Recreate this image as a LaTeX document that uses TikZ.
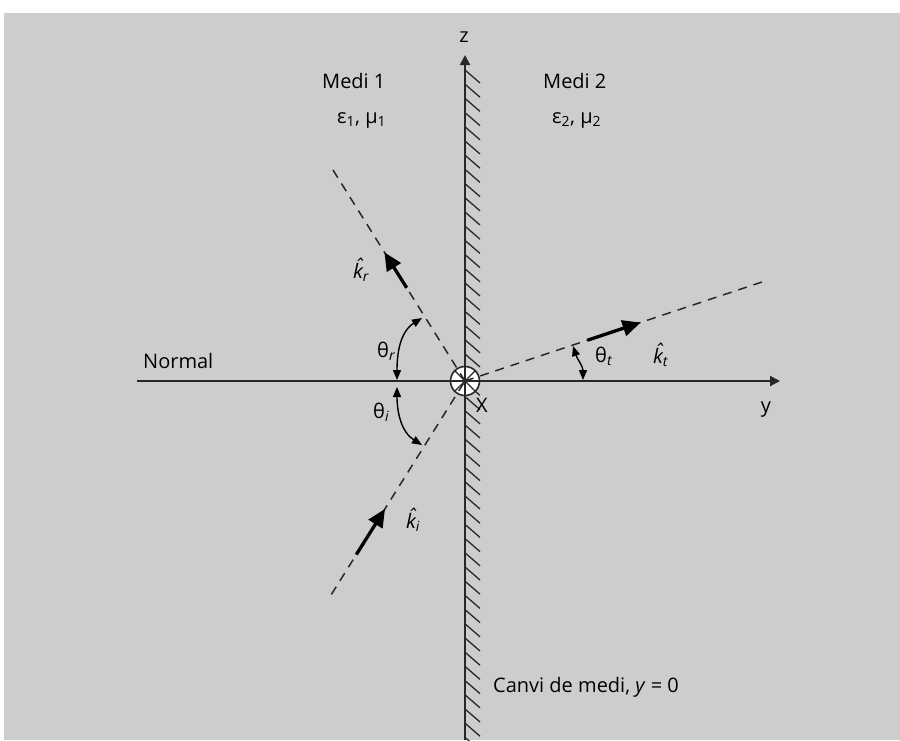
\documentclass[tikz,border=0pt]{standalone}
\usepackage{fontspec}
\setmainfont{Open Sans}
\usetikzlibrary{arrows.meta}
\definecolor{bg}{RGB}{205,205,205}
\definecolor{ink}{RGB}{40,40,40}
\newcommand\khat[1]{{\itshape\accent"02C6 k}\textsubscript{\itshape #1}}
\begin{document}
\begin{tikzpicture}[x=1pt,y=1pt,
  every node/.style={font=\fontsize{20}{24}\selectfont, inner sep=0pt, text=black},
  axisline/.style={draw=ink, line width=2pt},
  axistip/.style={-{Triangle[length=10pt,width=10pt]}},
  ray/.style={draw=ink, line width=1.5pt, dash pattern=on 9pt off 7pt},
  kvec/.style={draw=black, line width=3.3pt, -{Triangle[length=18pt,width=16pt]}},
  anglearc/.style={draw=black, line width=1.4pt, {Triangle[length=10pt,width=8pt]}-{Triangle[length=10pt,width=8pt]}},
  hatch/.style={draw=ink, line width=1.3pt}]
\useasboundingbox (0,0) rectangle (900,-740);
\fill[white] (0,0) rectangle (900,-740);
\fill[bg] (4,-13) rectangle (900,-740);
% hatching
\foreach \k in {0,...,47}{
  \draw[hatch] (465,{-70-14.2*\k}) -- ++(15,-13);
}
% key points
\coordinate (O) at (465,-381);
\coordinate (R) at (333,-170);
\coordinate (I) at (331.4,-594.4);
\coordinate (T) at (762,-282);
\coordinate (Ztop) at (465,-55);
\coordinate (Zbot) at (465,-740);
\coordinate (Yl) at (137,-381);
\coordinate (Yr) at (780,-381);
% origin symbol
\node[circle, draw=ink, fill=white, line width=1.6pt, minimum size=29pt] (orig) at (O) {};
\draw[ink, line width=1.2pt] (orig.45) -- (orig.225) (orig.135) -- (orig.315);
% axes
\draw[axisline, axistip] (Zbot) -- (Ztop);
\draw[axisline, axistip] (Yl) -- (Yr);
% rays
\draw[ray] (O) -- (R);
\draw[ray] (I) -- (O);
\draw[ray] (O) -- (T);
% wave vectors
\coordinate (kr1) at (406.7,-287.8);
\coordinate (kr2) at (384.4,-252.3);
\coordinate (ki1) at (356.3,-554.6);
\coordinate (ki2) at (385.0,-508.9);
\coordinate (kt1) at (587.4,-340.2);
\coordinate (kt2) at (640.6,-322.5);
\draw[kvec] (kr1) -- (kr2);
\draw[kvec] (ki1) -- (ki2);
\draw[kvec] (kt1) -- (kt2);
% angle arcs
\coordinate (A1) at (397,-380);
\coordinate (B1) at (422,-318);
\coordinate (A2) at (397,-387);
\coordinate (B2) at (422,-445);
\coordinate (A3) at (583,-380);
\coordinate (B3) at (573,-346);
\draw[anglearc] (A1) to[out=90,in=212] (B1);
\draw[anglearc] (A2) to[out=-90,in=148] (B2);
\draw[anglearc] (A3) to[out=90,in=-72] (B3);
% labels
\node[anchor=base] (zl) at (464,-42) {z};
\node[anchor=base west] (m1) at (322,-88) {Medi 1};
\node[anchor=base west] (e1) at (337,-123) {ε\textsubscript{1}, μ\textsubscript{1}};
\node[anchor=base west] (m2) at (543,-88) {Medi 2};
\node[anchor=base west] (e2) at (552,-123) {ε\textsubscript{2}, μ\textsubscript{2}};
\node[anchor=base west] (normal) at (143,-368) {Normal};
\node[anchor=base] (yl) at (766,-412) {y};
\node[anchor=base] (xl) at (482,-412) {X};
\node[anchor=base west] (thr) at (377,-357) {θ\textsubscript{\itshape r}};
\node[anchor=base west] (thi) at (373,-418) {θ\textsubscript{\itshape i}};
\node[anchor=base west] (tht) at (595,-362) {θ\textsubscript{\itshape t}};
\node[anchor=base west] (krl) at (353,-278) {\khat{r}};
\node[anchor=base west] (kil) at (406,-528) {\khat{i}};
\node[anchor=base west] (ktl) at (653,-363) {\khat{t}};
\node[anchor=base west] (canvi) at (493,-692) {Canvi de medi, \textit{y} = 0};
\end{tikzpicture}
\end{document}
